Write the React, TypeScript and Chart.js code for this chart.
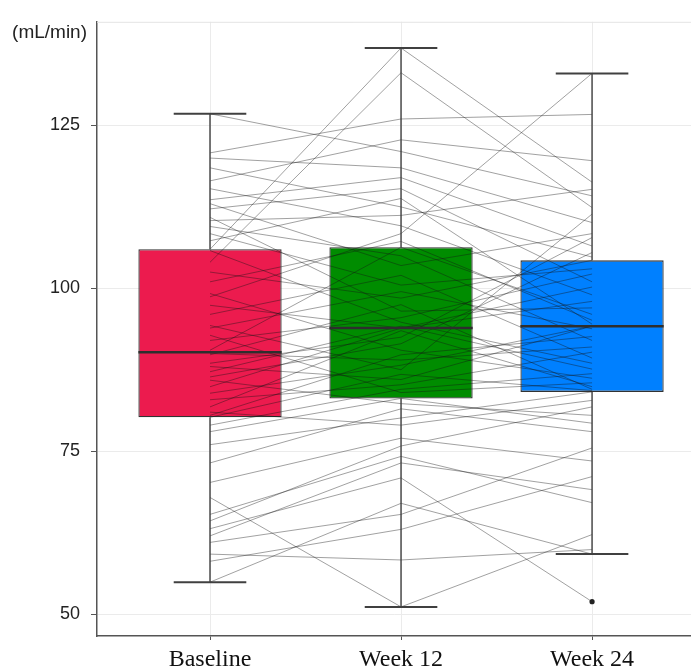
import React, { useEffect, useRef } from 'react';
import { Chart, registerables } from 'chart.js';

Chart.register(...registerables);

const categories = ['Baseline', 'Week 12', 'Week 24'];

// per-patient eGFR (mL/min), same patient order in each array
const baselineValues = [
  126.8, 120.8, 120.0, 118.5, 116.5, 115.3, 113.6, 113.0, 112.2, 110.9,
  110.4, 109.5, 108.4, 107.3, 106.0, 105.8, 104.0, 102.5, 101.0, 99.2,
  98.7, 97.4, 96.0, 94.3, 93.9, 92.8, 92.0, 90.5, 90.0, 89.8,
  88.5, 88.0, 87.2, 86.4, 85.9, 84.9, 83.9, 82.9, 81.8, 81.0,
  80.5, 80.2, 79.0, 78.0, 76.0, 73.2, 70.2, 67.9, 65.3, 64.3,
  63.1, 62.0, 61.0, 59.2, 58.1, 54.9,
];
const week12Values = [
  121.0, 126.0, 118.5, 112.5, 122.8, 109.6, 117.0, 103.5, 115.3, 96.5,
  111.2, 105.0, 100.5, 113.8, 136.9, 94.8, 133.1, 98.5, 107.2, 90.5,
  108.4, 93.9, 102.0, 87.5, 99.5, 84.0, 95.5, 106.3, 89.0, 97.5,
  92.5, 86.0, 94.2, 91.5, 82.3, 93.9, 88.2, 85.2, 93.5, 79.0,
  89.8, 86.8, 84.5, 83.1, 80.1, 81.5, 77.0, 51.1, 74.2, 75.8,
  70.9, 73.2, 65.3, 58.3, 63.0, 67.0,
];
const week24Values = [
  114.2, 126.7, 110.1, 104.8, 119.6, 99.0, 106.5, 108.4, 101.0, 97.0,
  115.2, 92.0, 103.0, 94.5, 116.3, 88.5, 112.4, 104.3, 95.1, 86.2,
  133.0, 100.2, 89.3, 111.4, 93.8, 85.5, 102.2, 96.0, 91.0, 84.5,
  107.8, 94.2, 87.6, 105.5, 80.5, 98.0, 94.2, 90.2, 84.9, 82.8,
  92.6, 84.3, 86.9, 79.3, 84.1, 78.0, 73.5, 62.2, 67.1, 81.8,
  51.9, 69.1, 75.5, 59.9, 71.1, 59.2,
];

// box summaries
const boxQ1 = [80.2, 83.1, 84.1];
const boxMedian = [90.2, 93.9, 94.2];
const boxQ3 = [106.0, 106.3, 104.3];
const whiskerLow = [54.9, 51.1, 59.2];
const whiskerHigh = [126.8, 136.9, 133.0];
const outlierGroup = [2];
const outlierValue = [51.9];

const yTicks = [50, 75, 100, 125];
const boxColors = ['#EC1B4E', '#008C00', '#0080FF'];

const decorPlugin = {
  id: 'boxDecor',
  beforeDatasetsDraw(chart: any) {
    const { ctx, chartArea } = chart;
    ctx.save();
    ctx.strokeStyle = '#E4E4E4';
    ctx.lineWidth = 1;
    ctx.beginPath();
    ctx.moveTo(chartArea.left, chartArea.top + 0.5);
    ctx.lineTo(chartArea.right, chartArea.top + 0.5);
    ctx.stroke();
    ctx.restore();
  },
  afterDatasetsDraw(chart: any) {
    const { ctx, chartArea } = chart;
    const xs = chart.scales.x;
    const ys = chart.scales.y;
    ctx.save();
    for (let i = 0; i < categories.length; i++) {
      const cx = xs.getPixelForValue(i);
      const capL = xs.getPixelForValue(i - 0.19);
      const capR = xs.getPixelForValue(i + 0.19);
      ctx.strokeStyle = '#404040';
      ctx.lineWidth = 1.4;
      ctx.beginPath();
      ctx.moveTo(cx, ys.getPixelForValue(boxQ3[i]));
      ctx.lineTo(cx, ys.getPixelForValue(whiskerHigh[i]));
      ctx.moveTo(cx, ys.getPixelForValue(boxQ1[i]));
      ctx.lineTo(cx, ys.getPixelForValue(whiskerLow[i]));
      ctx.stroke();
      ctx.lineWidth = 2;
      ctx.beginPath();
      ctx.moveTo(capL, ys.getPixelForValue(whiskerHigh[i]));
      ctx.lineTo(capR, ys.getPixelForValue(whiskerHigh[i]));
      ctx.moveTo(capL, ys.getPixelForValue(whiskerLow[i]));
      ctx.lineTo(capR, ys.getPixelForValue(whiskerLow[i]));
      ctx.stroke();
      // median
      ctx.strokeStyle = '#2e2e2e';
      ctx.lineWidth = 2.5;
      ctx.beginPath();
      ctx.moveTo(xs.getPixelForValue(i - 0.375), ys.getPixelForValue(boxMedian[i]));
      ctx.lineTo(xs.getPixelForValue(i + 0.375), ys.getPixelForValue(boxMedian[i]));
      ctx.stroke();
    }
    ctx.fillStyle = '#222';
    for (let k = 0; k < outlierGroup.length; k++) {
      ctx.beginPath();
      ctx.arc(xs.getPixelForValue(outlierGroup[k]), ys.getPixelForValue(outlierValue[k]), 2.6, 0, Math.PI * 2);
      ctx.fill();
    }
    // unit label
    ctx.fillStyle = '#222';
    ctx.font = '19px "Liberation Sans", Arial, sans-serif';
    ctx.textAlign = 'right';
    ctx.textBaseline = 'middle';
    ctx.fillText('(mL/min)', chartArea.left - 10, chartArea.top + 11);
    ctx.restore();
  },
};

export default function App() {
  const ref = useRef<HTMLCanvasElement>(null);
  useEffect(() => {
    if (!ref.current) return;
    const patientSets = baselineValues.map((b, p) => ({
      type: 'line' as const,
      data: [
        { x: 0, y: b },
        { x: 1, y: week12Values[p] },
        { x: 2, y: week24Values[p] },
      ],
      borderColor: 'rgba(20,20,20,0.4)',
      borderWidth: 1,
      pointRadius: 0,
      fill: false,
      tension: 0,
      order: 1,
    }));
    const chart = new Chart(ref.current, {
      type: 'line',
      data: {
        datasets: [
          {
            type: 'bar' as const,
            data: categories.map((_, i) => ({ x: i, y: [boxQ1[i], boxQ3[i]] })) as any,
            backgroundColor: boxColors,
            borderColor: '#333333',
            borderWidth: 1.3,
            borderSkipped: false,
            categoryPercentage: 1,
            barPercentage: 0.75,
            order: 2,
          } as any,
          ...patientSets,
        ],
      },
      options: {
        animation: false,
        responsive: false,
        events: [],
        layout: { padding: { top: 20, left: 0, right: 0, bottom: 0 } },
        plugins: { legend: { display: false }, tooltip: { enabled: false } },
        scales: {
          x: {
            type: 'linear',
            min: -0.5916,
            max: 2.518,
            offset: false,
            afterBuildTicks: (s: any) => {
              s.ticks = categories.map((_, i) => ({ value: i }));
            },
            afterFit: (s: any) => {
              s.height = 34;
            },
            ticks: {
              callback: (_v: any, idx: number) => categories[idx],
              font: { family: '"Liberation Serif", "Times New Roman", serif', size: 24 },
              color: '#111',
              padding: 5,
              maxRotation: 0,
              autoSkip: false,
            },
            grid: { color: '#EBEBEB', tickColor: '#555', tickLength: 4, offset: false },
            border: { color: '#555', width: 1.5 },
          },
          y: {
            type: 'linear',
            min: 46.63,
            max: 140.92,
            afterBuildTicks: (s: any) => {
              s.ticks = yTicks.map((v) => ({ value: v }));
            },
            afterFit: (s: any) => {
              s.width = 97;
            },
            ticks: {
              font: { family: '"Liberation Sans", Arial, sans-serif', size: 18 },
              color: '#222',
              padding: 11,
            },
            grid: { color: '#EBEBEB', tickColor: '#555', tickLength: 6 },
            border: { color: '#555', width: 1.5 },
          },
        },
      },
      plugins: [decorPlugin],
    });
    return () => chart.destroy();
  }, []);
  return (
    <div style={{ position: 'absolute', left: 0, top: 0, width: 691, height: 670, background: '#fff' }}>
      <canvas ref={ref} width={691} height={670} style={{ display: 'block' }} />
    </div>
  );
}
